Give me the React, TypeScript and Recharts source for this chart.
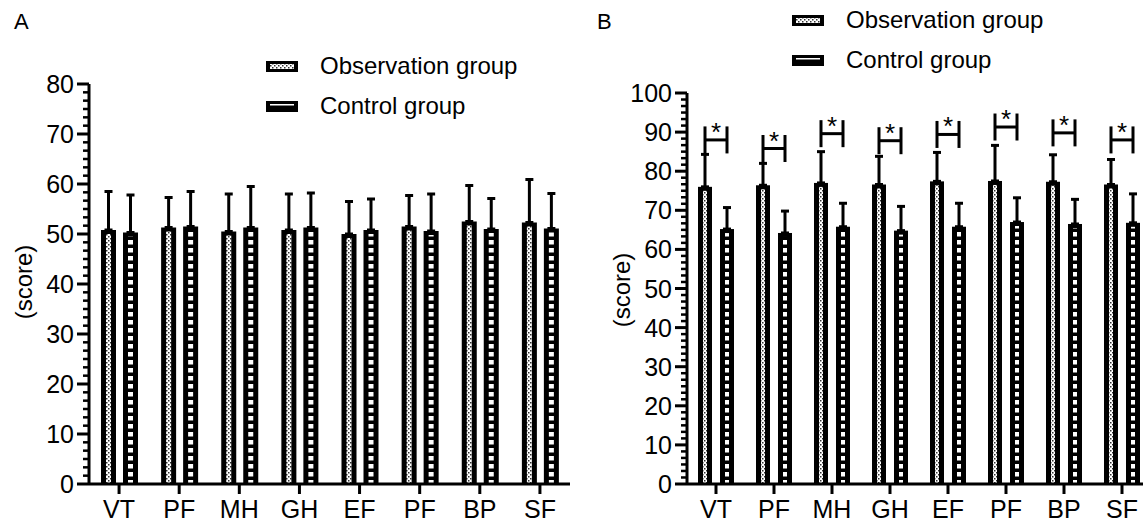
import React from "react";
import { Bar, BarChart, ErrorBar, LabelList, XAxis, YAxis } from "recharts";

const FONT = "'Liberation Sans', Arial, sans-serif";

const categories = ["VT", "PF", "MH", "GH", "EF", "PF", "BP", "SF"];
const seriesNames = ["Observation group", "Control group"];

// A: before intervention
const obsA = [50.8, 51.3, 50.5, 50.8, 50.0, 51.5, 52.5, 52.3];
const obsAErr = [7.7, 6.0, 7.5, 7.2, 6.5, 6.2, 7.2, 8.6];
const ctrlA = [50.3, 51.5, 51.3, 51.3, 50.8, 50.6, 51.0, 51.1];
const ctrlAErr = [7.5, 7.0, 8.2, 6.9, 6.2, 7.4, 6.1, 7.0];

// B: after intervention
const obsB = [76.0, 76.4, 77.0, 76.6, 77.4, 77.5, 77.3, 76.6];
const obsBErr = [8.3, 5.6, 8.0, 7.2, 7.4, 9.1, 6.9, 6.4];
const ctrlB = [65.2, 64.2, 65.8, 64.8, 65.8, 67.0, 66.5, 66.8];
const ctrlBErr = [5.5, 5.6, 6.0, 6.2, 6.0, 6.2, 6.3, 7.4];
const bracketB = [88.0, 85.8, 89.6, 87.8, 89.4, 91.3, 89.8, 88.0];

const ticksA = [0, 10, 20, 30, 40, 50, 60, 70, 80];
const ticksB = [0, 10, 20, 30, 40, 50, 60, 70, 80, 90, 100];

type Row = {
  key: string;
  label: string;
  obs: number;
  ctrl: number;
  obsErr: number[];
  ctrlErr: number[];
  bracket?: number;
};

const buildRows = (obs: number[], obsErr: number[], ctrl: number[], ctrlErr: number[], bracket?: number[]): Row[] =>
  categories.map((label, i) => ({
    key: `c${i}`,
    label,
    obs: obs[i],
    ctrl: ctrl[i],
    obsErr: [0, obsErr[i]],
    ctrlErr: [0, ctrlErr[i]],
    bracket: bracket ? bracket[i] : undefined,
  }));

const rowsA = buildRows(obsA, obsAErr, ctrlA, ctrlAErr);
const rowsB = buildRows(obsB, obsBErr, ctrlB, ctrlBErr, bracketB);

// majors plus 5 minor ticks in between
const withMinor = (majors: number[]) => {
  const out: number[] = [];
  majors.forEach((m, i) => {
    out.push(m);
    if (i < majors.length - 1) {
      const step = (majors[i + 1] - m) / 6;
      for (let k = 1; k < 6; k++) out.push(m + step * k);
    }
  });
  return out;
};

function YTick(props: any) {
  const { x, y, payload } = props;
  const v = payload.value;
  const major = Math.abs(v / 10 - Math.round(v / 10)) < 1e-6;
  return (
    <g>
      <line x1={x - (major ? 12 : 6)} x2={x} y1={y} y2={y} stroke="#000" strokeWidth={major ? 3 : 2.5} />
      {major && (
        <text x={x - 15} y={y} dy="0.36em" textAnchor="end" fontSize={25} fill="#000" fontFamily={FONT}>
          {Math.round(v)}
        </text>
      )}
    </g>
  );
}

function PatternBar(props: any) {
  const { x, y, width, height, fillId } = props;
  if (!height || height <= 0) return null;
  const inset = 5;
  return (
    <g>
      <rect x={x} y={y} width={width} height={height} fill="#000" />
      <rect x={x + inset} y={y + 4} width={width - 2 * inset} height={height - 4} fill={`url(#${fillId})`} />
    </g>
  );
}

function Patterns({ prefix }: { prefix: string }) {
  return (
    <defs>
      <pattern id={`${prefix}-obs`} width={4} height={4} patternUnits="userSpaceOnUse">
        <rect width={4} height={4} fill="#fff" />
        <rect x={0} y={0} width={1.5} height={1.5} fill="#333" />
        <rect x={2} y={2} width={1.5} height={1.5} fill="#333" />
      </pattern>
      <pattern id={`${prefix}-ctrl`} width={5} height={8} patternUnits="userSpaceOnUse">
        <rect width={5} height={8} fill="#000" />
        <rect x={0} y={0} width={5} height={4.5} fill="#fff" />
      </pattern>
    </defs>
  );
}

function LegendBox({ left, top, prefix }: { left: number; top: number; prefix: string }) {
  const ids = [`${prefix}-obs`, `${prefix}-ctrl`];
  return (
    <div style={{ position: "absolute", left, top, fontFamily: FONT, fontSize: 24, color: "#000" }}>
      {seriesNames.map((name, i) => (
        <div key={name} style={{ display: "flex", alignItems: "center", height: 40 }}>
          <svg width={32} height={11} style={{ display: "block" }}>
            <Patterns prefix={`${prefix}-lg`} />
            <rect x={0} y={0} width={32} height={11} fill="#000" />
            <rect x={4} y={3} width={24} height={5} fill={`url(#${ids[i].replace(prefix, prefix + "-lg")})`} />
          </svg>
          <span style={{ marginLeft: 22 }}>{name}</span>
        </div>
      ))}
    </div>
  );
}

type PanelProps = {
  prefix: string;
  rows: Row[];
  majors: number[];
  width: number;
  height: number;
  margin: { top: number; right: number; bottom: number; left: number };
  barSize: number;
  barGap: number;
  scoreX: number;
  scoreY: number;
};

function Panel({ prefix, rows, majors, width, height, margin, barSize, barGap, scoreX, scoreY }: PanelProps) {
  const yMax = majors[majors.length - 1];

  const bracket = (props: any) => {
    const { x, y, width: w, height: h, index } = props;
    const row = rows[index];
    if (!row || row.bracket == null || !h) return null;
    const base = y + h;
    const by = base - (row.bracket * h) / row.obs;
    const x1 = x + w / 2;
    const x2 = x + w + barGap + w / 2;
    const half = 13.5;
    return (
      <g>
        <line x1={x1} x2={x1} y1={by - half} y2={by + half} stroke="#000" strokeWidth={3} />
        <line x1={x2} x2={x2} y1={by - half} y2={by + half} stroke="#000" strokeWidth={3} />
        <line x1={x1} x2={x2} y1={by} y2={by} stroke="#000" strokeWidth={3} />
        <text x={(x1 + x2) / 2} y={by + 1} textAnchor="middle" fontSize={26} fill="#000" fontFamily={FONT}>
          *
        </text>
      </g>
    );
  };

  return (
    <BarChart width={width} height={height} data={rows} margin={margin} barSize={barSize} barGap={barGap}>
      <Patterns prefix={prefix} />
      <XAxis
        dataKey="key"
        tickFormatter={(_v: any, i: number) => categories[i]}
        interval={0}
        height={43}
        axisLine={{ stroke: "#000", strokeWidth: 3 }}
        tickLine={{ stroke: "#000", strokeWidth: 3 }}
        tickSize={10}
        tickMargin={6}
        tick={{ fontSize: 25, fill: "#000", fontFamily: FONT }}
      />
      <YAxis
        domain={[0, yMax]}
        ticks={withMinor(majors)}
        interval={0}
        width={60}
        tickSize={0}
        tickMargin={0}
        tickLine={false}
        axisLine={{ stroke: "#000", strokeWidth: 3 }}
        tick={<YTick />}
        label={{
          content: () => (
            <text
              x={scoreX}
              y={scoreY}
              transform={`rotate(-90 ${scoreX} ${scoreY})`}
              textAnchor="middle"
              dy="0.35em"
              fontSize={24}
              fill="#000"
              fontFamily={FONT}
            >
              (score)
            </text>
          ),
        }}
      />
      <Bar dataKey="obs" name={seriesNames[0]} isAnimationActive={false} shape={(p: any) => <PatternBar {...p} fillId={`${prefix}-obs`} />}>
        <ErrorBar dataKey="obsErr" width={4} strokeWidth={3} stroke="#000" direction="y" />
        <LabelList dataKey="obs" content={bracket} />
      </Bar>
      <Bar dataKey="ctrl" name={seriesNames[1]} isAnimationActive={false} shape={(p: any) => <PatternBar {...p} fillId={`${prefix}-ctrl`} />}>
        <ErrorBar dataKey="ctrlErr" width={4} strokeWidth={3} stroke="#000" direction="y" />
      </Bar>
    </BarChart>
  );
}

export default function App() {
  return (
    <div
      style={{
        position: "absolute",
        left: 0,
        top: 0,
        width: 1143,
        height: 527,
        overflow: "hidden",
        background: "#fff",
        fontFamily: FONT,
      }}
    >
      <div style={{ position: "absolute", left: 14, top: 9, fontSize: 22 }}>A</div>
      <div style={{ position: "absolute", left: 597, top: 9, fontSize: 22 }}>B</div>
      <div style={{ position: "absolute", left: 0, top: 0 }}>
        <Panel
          prefix="pa"
          rows={rowsA}
          majors={ticksA}
          width={580}
          height={527}
          margin={{ top: 84, right: 10, bottom: 0, left: 29 }}
          barSize={15}
          barGap={7}
          scoreX={24}
          scoreY={282}
        />
      </div>
      <div style={{ position: "absolute", left: 580, top: 0 }}>
        <Panel
          prefix="pb"
          rows={rowsB}
          majors={ticksB}
          width={580}
          height={527}
          margin={{ top: 93, right: 9, bottom: 0, left: 47 }}
          barSize={14}
          barGap={8}
          scoreX={42}
          scoreY={290}
        />
      </div>
      <LegendBox left={266} top={46} prefix="la" />
      <LegendBox left={792} top={0} prefix="lb" />
    </div>
  );
}
